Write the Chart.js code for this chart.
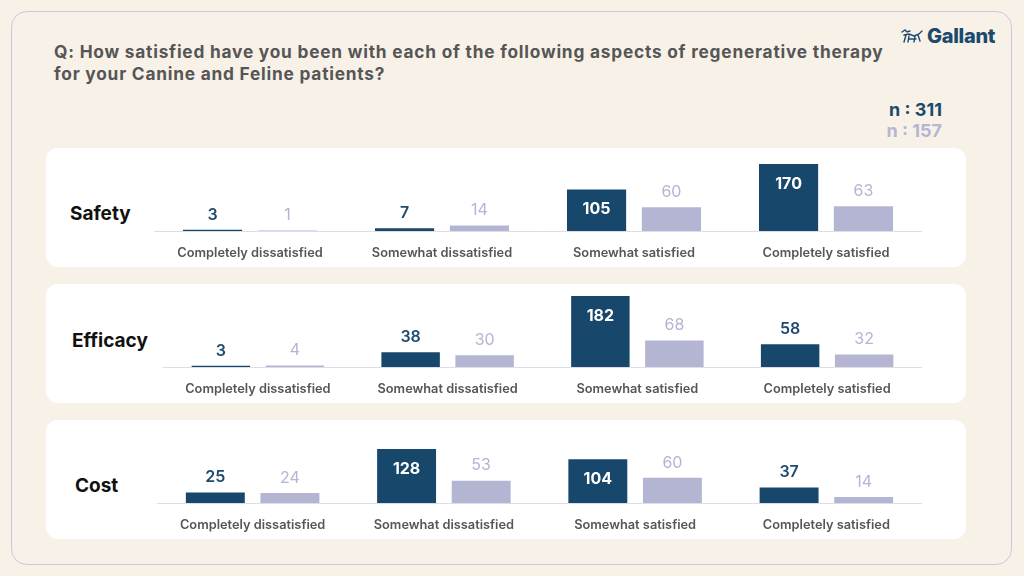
<!DOCTYPE html>
<html>
<head>
<meta charset="utf-8">
<script src="https://cdn.jsdelivr.net/npm/chart.js@4.4.1/dist/chart.umd.min.js"></script>
<style>
  body { margin: 0; width: 1024px; height: 576px; background: #f8f1e8; font-family: Inter, "Open Sans", sans-serif; overflow: hidden; }
  #frame { position: absolute; left: 11px; top: 11px; width: 999px; height: 552px; border: 1.5px solid #c8c8e2; border-radius: 16px; }
  #title { position: absolute; left: 54px; top: 41px; font-size: 17.3px; font-weight: 700; color: #565656; line-height: 22px; letter-spacing: 0.78px; }
  #logo { position: absolute; left: 900px; top: 24px; font-size: 20px; font-weight: 800; color: #1b4a6d; letter-spacing: -0.3px; display: flex; align-items: center; gap: 3px; }
  .n { position: absolute; right: 82px; font-size: 18px; font-weight: 700; }
  .panel { position: absolute; left: 46px; width: 920px; height: 119px; background: #fff; border-radius: 12px; }
  .plabel { position: absolute; font-size: 19px; font-weight: 700; color: #111; }
  canvas { position: absolute; }
</style>
</head>
<body>
<div id="frame"></div>
<div id="title">Q: How satisfied have you been with each of the following aspects of regenerative therapy<br>for your Canine and Feline patients?</div>
<div id="logo">
  <svg width="24" height="18" viewBox="0 0 24 18" fill="none" stroke="#1b4a6d" stroke-width="1.4" stroke-linecap="round">
    <path d="M2 5 L5 3 L7 5 L10 4"/><path d="M4 8 L9 7 L14 9 L19 7 L22 4"/><path d="M6 8 L4 15"/><path d="M9 9 L8 15"/><path d="M15 9 L14 15"/><path d="M18 8 L20 14"/><path d="M9 12 L16 12"/>
  </svg>
  <span>Gallant</span>
</div>
<div class="n" style="top:99px;color:#1b4a6d">n : 311</div>
<div class="n" style="top:120px;color:#b6b6d4">n : 157</div>

<div class="panel" style="top:148px"></div>
<div class="panel" style="top:284px"></div>
<div class="panel" style="top:420px"></div>
<div class="plabel" style="left:70px;top:202px">Safety</div>
<div class="plabel" style="left:72px;top:329px">Efficacy</div>
<div class="plabel" style="left:75px;top:474px">Cost</div>

<canvas id="safetyChart" style="left:154px;top:148px;width:768px;height:119px"></canvas>
<canvas id="efficacyChart" style="left:163px;top:284px;width:759px;height:119px"></canvas>
<canvas id="costChart" style="left:157px;top:420px;width:765px;height:119px"></canvas>

<script>
const categories = ["Completely dissatisfied", "Somewhat dissatisfied", "Somewhat satisfied", "Completely satisfied"];

// n : 311 (dark) and n : 157 (light)
const safety311 = [3, 7, 105, 170];
const safety157 = [1, 14, 60, 63];
const efficacy311 = [3, 38, 182, 58];
const efficacy157 = [4, 30, 68, 32];
const cost311 = [25, 128, 104, 37];
const cost157 = [24, 53, 60, 14];

const DARK = "#17476a";
const LIGHT = "#b4b4d3";

// draws the value labels, inside the bar when it is tall enough
const valueLabels = {
  id: "valueLabels",
  afterDatasetsDraw(chart) {
    const ctx = chart.ctx;
    ctx.save();
    ctx.textAlign = "center";
    ctx.textBaseline = "middle";
    chart.data.datasets.forEach((ds, i) => {
      chart.getDatasetMeta(i).data.forEach((bar, j) => {
        const v = ds.data[j];
        if (v >= 100) {
          ctx.fillStyle = "#fff";
          ctx.font = "700 16px Inter, sans-serif";
          ctx.fillText(v, bar.x, bar.y + 20);
        } else {
          ctx.fillStyle = i === 0 ? "#1d4a6e" : LIGHT;
          ctx.font = (i === 0 ? "600" : "400") + " 16px Inter, sans-serif";
          ctx.fillText(v, bar.x, bar.y - 15);
        }
      });
    });
    ctx.restore();
  },
};

function makeChart(id, dark, light, max) {
  new Chart(document.getElementById(id), {
    type: "bar",
    data: {
      labels: categories,
      datasets: [
        { label: "n : 311", data: dark, backgroundColor: DARK },
        { label: "n : 157", data: light, backgroundColor: LIGHT },
      ],
    },
    options: {
      responsive: false,
      animation: false,
      categoryPercentage: 0.78,
      barPercentage: 0.79,
      layout: { padding: { top: 3, left: 0, right: 0, bottom: 0 } },
      scales: {
        x: {
          grid: { display: false, drawTicks: false },
          border: { color: "#dcdde6", width: 1 },
          ticks: {
            color: "#565656",
            padding: 14,
            font: { size: 12.8, weight: "600", family: "Inter, sans-serif" },
          },
          afterFit(scale) { scale.height = 36; },
        },
        y: { display: false, beginAtZero: true, max: max },
      },
      plugins: {
        legend: { display: false },
        tooltip: { enabled: false },
      },
    },
    plugins: [valueLabels],
  });
}

// size the canvases to their css boxes
document.querySelectorAll("canvas").forEach((c) => {
  c.width = parseInt(c.style.width);
  c.height = parseInt(c.style.height);
});

makeChart("safetyChart", safety311, safety157, 203);
makeChart("efficacyChart", efficacy311, efficacy157, 205);
makeChart("costChart", cost311, cost157, 190);
</script>
</body>
</html>
